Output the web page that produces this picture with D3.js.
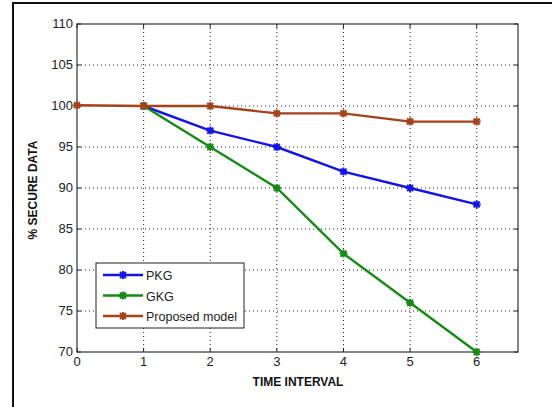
<!DOCTYPE html>
<html><head><meta charset="utf-8">
<script src="https://cdn.jsdelivr.net/npm/d3@7"></script>
<style>body{margin:0;background:#fff}svg{display:block}</style>
</head><body>
<svg id="c" width="552" height="407"></svg>
<script>
const xTicks = [0,1,2,3,4,5,6];
const yTicks = [70,75,80,85,90,95,100,105,110];
const seriesNames = ["PKG","GKG","Proposed model"];
const pkgX = [1,2,3,4,5,6];
const pkgY = [100,97,95,92,90,88];
const gkgX = [1,2,3,4,5,6];
const gkgY = [100,95,90,82,76,70];
const propX = [0,1,2,3,4,5,6];
const propY = [100.1,100,100,99.1,99.1,98.1,98.1];
const colors = ["#1414e6","#168a16","#a4421a"];

const svg = d3.select("#c");
const L=77, R=518, T=24, B=352;
const x = d3.scaleLinear().domain([0,6.62]).range([L,R]);
const y = d3.scaleLinear().domain([70,110]).range([B,T]);

svg.append("line").attr("x1",13).attr("x2",552).attr("y1",3).attr("y2",3).attr("stroke","#111").attr("stroke-width",2);
svg.append("line").attr("x1",13).attr("x2",13).attr("y1",2).attr("y2",407).attr("stroke","#111").attr("stroke-width",2);

const g = svg.append("g");
xTicks.slice(1).forEach(t=>g.append("line").attr("x1",x(t)).attr("x2",x(t)).attr("y1",T).attr("y2",B)
  .attr("stroke","#222").attr("stroke-width",1).attr("stroke-dasharray","1,3"));
yTicks.slice(1,-1).forEach(t=>g.append("line").attr("x1",L).attr("x2",R).attr("y1",y(t)).attr("y2",y(t))
  .attr("stroke","#222").attr("stroke-width",1).attr("stroke-dasharray","1,3"));

g.append("rect").attr("x",L).attr("y",T).attr("width",R-L).attr("height",B-T).attr("fill","none").attr("stroke","#333").attr("stroke-width",1.2);
xTicks.forEach(t=>{
  g.append("line").attr("x1",x(t)).attr("x2",x(t)).attr("y1",B).attr("y2",B-4).attr("stroke","#222");
  g.append("line").attr("x1",x(t)).attr("x2",x(t)).attr("y1",T).attr("y2",T+4).attr("stroke","#222");
});
yTicks.forEach(t=>{
  g.append("line").attr("x1",L).attr("x2",L+4).attr("y1",y(t)).attr("y2",y(t)).attr("stroke","#222");
  g.append("line").attr("x1",R).attr("x2",R-4).attr("y1",y(t)).attr("y2",y(t)).attr("stroke","#222");
});

const font = "'Liberation Sans Narrow','Liberation Sans',Arial,sans-serif";
xTicks.forEach(t=>g.append("text").attr("x",x(t)).attr("y",B+14).attr("text-anchor","middle")
  .attr("font-family",font).attr("font-size",13).attr("fill","#222").text(t));
yTicks.forEach(t=>g.append("text").attr("x",L-4).attr("y",y(t)+4).attr("text-anchor","end")
  .attr("font-family",font).attr("font-size",13).attr("fill","#222").text(t));

svg.append("text").attr("x",298).attr("y",386).attr("text-anchor","middle").attr("font-family","'Liberation Sans',Arial,sans-serif")
  .attr("font-weight","bold").attr("font-size",12).attr("fill","#111").text("TIME INTERVAL");
svg.append("text").attr("transform","translate(37,190) rotate(-90)").attr("text-anchor","middle").attr("font-family","'Liberation Sans',Arial,sans-serif")
  .attr("font-weight","bold").attr("font-size",12).attr("fill","#111").text("% SECURE DATA");

const line = d3.line().x(d=>x(d[0])).y(d=>y(d[1]));
function star(sel,cx,cy,c){
  const s=4;
  sel.append("path").attr("d",`M${cx-s},${cy}H${cx+s}M${cx},${cy-s}V${cy+s}M${cx-3},${cy-3}L${cx+3},${cy+3}M${cx-3},${cy+3}L${cx+3},${cy-3}`)
    .attr("stroke",c).attr("stroke-width",2).attr("fill","none");
}
const data = [[pkgX,pkgY],[gkgX,gkgY],[propX,propY]];
data.forEach(([xs,ys],i)=>{
  const pts = xs.map((v,j)=>[v,ys[j]]);
  g.append("path").datum(pts).attr("d",line).attr("fill","none").attr("stroke",colors[i]).attr("stroke-width",2.4);
  pts.forEach(p=>star(g,x(p[0]),y(p[1]),colors[i]));
});

const lg = svg.append("g");
lg.append("rect").attr("x",96).attr("y",263).attr("width",148).attr("height",65).attr("fill","#fff").attr("stroke","#222").attr("stroke-width",1);
seriesNames.forEach((n,i)=>{
  const yy = 275 + i*20.5;
  lg.append("line").attr("x1",103).attr("x2",143).attr("y1",yy).attr("y2",yy).attr("stroke",colors[i]).attr("stroke-width",2.4);
  star(lg,123,yy,colors[i]);
  lg.append("text").attr("x",146).attr("y",yy+5).attr("font-family",font).attr("font-size",12.5).attr("fill","#222").text(n);
});
</script>
</body></html>
